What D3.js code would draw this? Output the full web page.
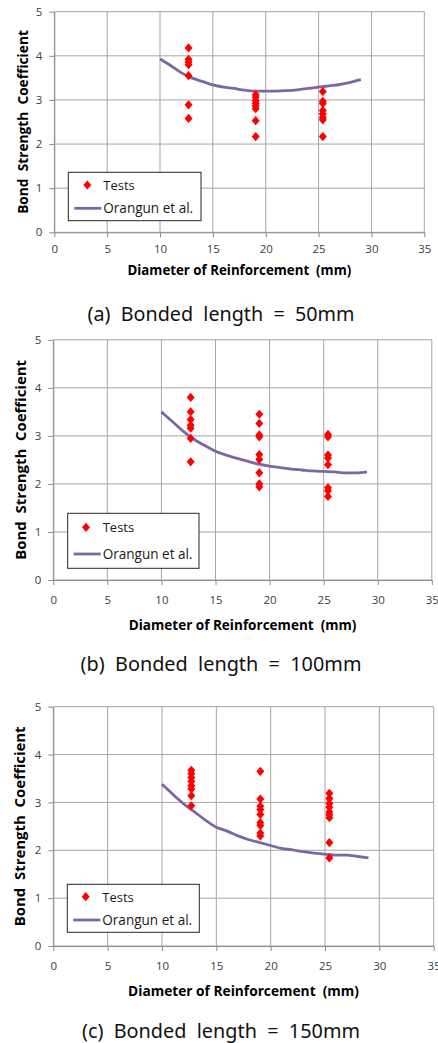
<!DOCTYPE html>
<html>
<head>
<meta charset="utf-8">
<script src="https://cdn.jsdelivr.net/npm/d3@7"></script>
<style>
  body { margin: 0; background: #fff; }
  svg { display: block; }
  .tick text { font-family: "Open Sans", sans-serif; font-size: 11.5px; fill: #404040; }
</style>
</head>
<body>
<script>
// axis ticks
var xTicks = [0, 5, 10, 15, 20, 25, 30, 35];
var yTicks = [0, 1, 2, 3, 4, 5];

// bar diameters used in the tests (mm)
var barDiameters = [12.7, 19.05, 25.4];

// test results, one list per bar diameter
var testsA = [
  [4.18, 3.92, 3.86, 3.8, 3.55, 2.89, 2.58],
  [3.12, 3.06, 2.98, 2.92, 2.86, 2.8, 2.53, 2.17],
  [3.19, 2.97, 2.92, 2.76, 2.68, 2.6, 2.55, 2.17]
];
var testsB = [
  [3.8, 3.5, 3.34, 3.22, 3.16, 2.95, 2.46],
  [3.45, 3.26, 3.02, 2.98, 2.61, 2.51, 2.23, 2.0, 1.94],
  [3.03, 2.98, 2.6, 2.54, 2.4, 1.92, 1.86, 1.74]
];
var testsC = [
  [3.67, 3.6, 3.52, 3.44, 3.35, 3.28, 3.14, 2.93],
  [3.65, 3.07, 2.92, 2.85, 2.75, 2.58, 2.52, 2.36, 2.3],
  [3.19, 3.08, 2.98, 2.9, 2.8, 2.74, 2.68, 2.16, 1.84]
];

// Orangun et al. prediction
var curveX   = [10, 11, 12, 13, 14, 15, 16, 17, 18, 19, 20, 21, 22, 23, 24, 25, 26, 27, 28, 29];
var orangunA = [3.93, 3.78, 3.62, 3.5, 3.42, 3.34, 3.29, 3.26, 3.22, 3.2, 3.2, 3.2, 3.21, 3.23, 3.26, 3.29, 3.32, 3.35, 3.4, 3.46];
var orangunB = [3.5, 3.3, 3.1, 2.93, 2.8, 2.68, 2.6, 2.53, 2.47, 2.41, 2.37, 2.34, 2.31, 2.29, 2.27, 2.26, 2.25, 2.23, 2.23, 2.25];
var orangunC = [3.38, 3.17, 2.97, 2.8, 2.63, 2.48, 2.4, 2.3, 2.22, 2.16, 2.1, 2.04, 2.01, 1.97, 1.94, 1.92, 1.9, 1.9, 1.87, 1.84];

var captions = ["(a)  Bonded  length  =  50mm", "(b)  Bonded  length  =  100mm", "(c)  Bonded  length  =  150mm"];
var legendLabels = ["Tests", "Orangun et al."];
var xTitle = "Diameter of Reinforcement  (mm)";
var yTitle = "Bond  Strength  Coefficient";

// layout of each panel
var panels = [
  {tests: testsA, model: orangunA, caption: captions[0],
   l: 54.3, r: 424.3, t: 11.7, b: 232.3, tickY: 249, titleY: 270, capY: 313, capW: 267,
   xtW: 224, ytX: 22, ytW: 184,
   leg: {x: 68.3, y: 172.3, w: 132.7, h: 48.4, dy: 185, dx: 87.3, ly: 208.3}},
  {tests: testsB, model: orangunB, caption: captions[1],
   l: 53.3, r: 431.8, t: 339.8, b: 580, tickY: 600, titleY: 625, capY: 663, capW: 281,
   xtW: 228, ytX: 20, ytW: 200,
   leg: {x: 67.7, y: 513.3, w: 131.3, h: 55, dy: 527.3, dx: 86, ly: 554}},
  {tests: testsC, model: orangunC, caption: captions[2],
   l: 53.3, r: 433.7, t: 706.7, b: 946, tickY: 966, titleY: 990, capY: 1030, capW: 278,
   xtW: 231, ytX: 18.5, ytW: 200,
   leg: {x: 67.3, y: 884.3, w: 132, h: 48, dy: 896.7, dx: 85.7, ly: 920}}
];

var width = 438, height = 1043;
var svg = d3.select("body").append("svg")
  .attr("width", width)
  .attr("height", height);

var diamond = "M0,-4.6L4,0L0,4.6L-4,0Z";
var lineColor = "#7d66a6";

// scale the font so the text reaches the target width
function fitText(sel, target) {
  var n = sel.node().getComputedTextLength();
  var fs = parseFloat(sel.style("font-size"));
  sel.style("font-size", (fs * target / n) + "px");
}

panels.forEach(function(p) {
  var x = d3.scaleLinear().domain([0, 35]).range([p.l, p.r]);
  var y = d3.scaleLinear().domain([0, 5]).range([p.b, p.t]);
  var g = svg.append("g");

  // grid
  g.selectAll("line.vgrid").data(xTicks).enter().append("line")
    .attr("class", "vgrid")
    .attr("x1", function(d) { return x(d); }).attr("x2", function(d) { return x(d); })
    .attr("y1", p.t).attr("y2", p.b)
    .attr("stroke", "#a6a6a6").attr("stroke-width", 1);
  g.selectAll("line.hgrid").data(yTicks).enter().append("line")
    .attr("class", "hgrid")
    .attr("x1", p.l).attr("x2", p.r)
    .attr("y1", function(d) { return y(d); }).attr("y2", function(d) { return y(d); })
    .attr("stroke", "#a6a6a6").attr("stroke-width", 1);

  // axes
  var ya = g.append("g")
    .attr("transform", "translate(" + p.l + ",0)")
    .call(d3.axisLeft(y).tickValues(yTicks).tickFormat(d3.format("d"))
      .tickSize(5).tickSizeOuter(0).tickPadding(7));
  var xa = g.append("g")
    .attr("transform", "translate(0," + p.b + ")")
    .call(d3.axisBottom(x).tickValues(xTicks).tickFormat(d3.format("d"))
      .tickSize(5).tickSizeOuter(0).tickPadding(p.tickY - p.b - 9));
  [ya, xa].forEach(function(a) {
    a.select(".domain").attr("stroke", "#8c8c8c");
    a.selectAll(".tick line").attr("stroke", "#8c8c8c");
  });

  // model curve
  var line = d3.line()
    .x(function(d) { return x(d[0]); })
    .y(function(d) { return y(d[1]); })
    .curve(d3.curveMonotoneX);
  g.append("path")
    .datum(curveX.map(function(cx, i) { return [cx, p.model[i]]; }))
    .attr("d", line)
    .attr("fill", "none")
    .attr("stroke", lineColor)
    .attr("stroke-width", 2.8)
    .attr("stroke-linejoin", "round");

  // test points
  var pts = [];
  p.tests.forEach(function(vals, i) {
    vals.forEach(function(v) { pts.push([barDiameters[i], v]); });
  });
  g.selectAll("path.pt").data(pts).enter().append("path")
    .attr("class", "pt")
    .attr("d", diamond)
    .attr("transform", function(d) { return "translate(" + x(d[0]) + "," + y(d[1]) + ")"; })
    .attr("fill", "#ff0000");

  // legend
  var L = p.leg;
  g.append("rect")
    .attr("x", L.x).attr("y", L.y).attr("width", L.w).attr("height", L.h)
    .attr("fill", "#fff").attr("stroke", "#262626").attr("stroke-width", 1);
  g.append("path").attr("d", diamond)
    .attr("transform", "translate(" + L.dx + "," + L.dy + ")")
    .attr("fill", "#ff0000");
  g.append("line")
    .attr("x1", L.x + 6).attr("x2", L.x + 33).attr("y1", L.ly).attr("y2", L.ly)
    .attr("stroke", lineColor).attr("stroke-width", 2.8);
  [L.dy, L.ly].forEach(function(ty, i) {
    var lt = g.append("text")
      .attr("x", L.x + 35).attr("y", ty)
      .attr("dominant-baseline", "central")
      .style("font-family", "Open Sans, sans-serif")
      .style("font-size", "13px")
      .attr("fill", "#1a1a1a")
      .text(legendLabels[i]);
    if (i === 1) fitText(lt, 90);
  });

  // axis titles
  var xt = g.append("text")
    .attr("x", (p.l + p.r) / 2).attr("y", p.titleY)
    .attr("text-anchor", "middle").attr("dominant-baseline", "central")
    .style("font-family", "Open Sans, sans-serif").style("font-weight", "bold")
    .style("font-size", "13px").style("white-space", "pre")
    .text(xTitle);
  fitText(xt, p.xtW);
  var yt = g.append("text")
    .attr("transform", "translate(" + p.ytX + "," + (p.t + p.b) / 2 + ") rotate(-90)")
    .attr("text-anchor", "middle").attr("dominant-baseline", "central")
    .style("font-family", "Open Sans, sans-serif").style("font-weight", "bold")
    .style("font-size", "13px").style("white-space", "pre")
    .text(yTitle);
  fitText(yt, p.ytW);

  // caption
  var cap = g.append("text")
    .attr("x", 221).attr("y", p.capY)
    .attr("text-anchor", "middle").attr("dominant-baseline", "central")
    .style("font-family", "Noto Sans, sans-serif")
    .style("font-size", "18px").style("white-space", "pre")
    .attr("fill", "#111")
    .text(p.caption);
  fitText(cap, p.capW);
});
</script>
</body>
</html>
